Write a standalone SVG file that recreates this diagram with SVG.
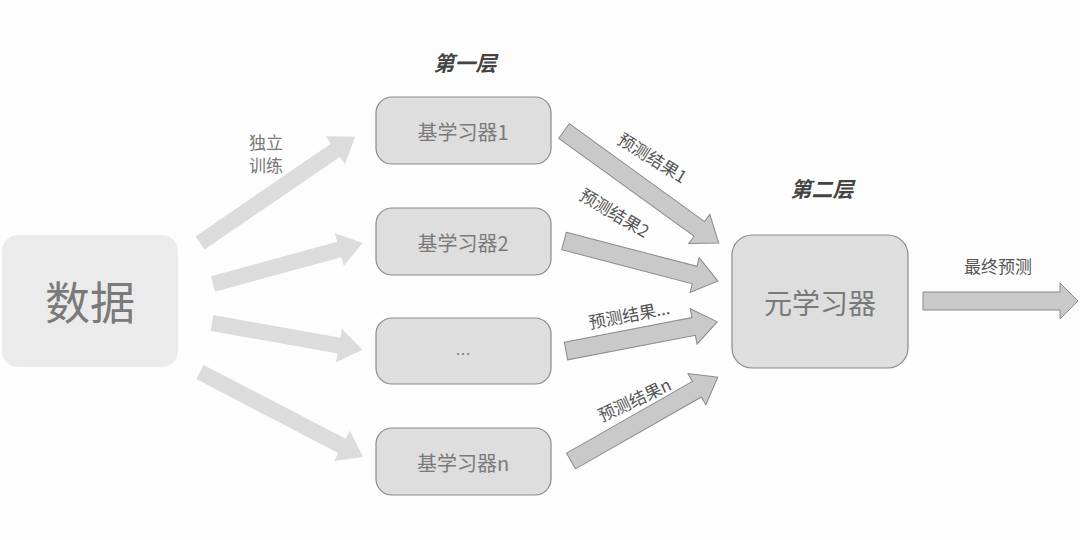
<svg xmlns="http://www.w3.org/2000/svg" width="1080" height="540" viewBox="0 0 1080 540">
<style>
.t{font-family:"Noto Sans CJK SC","Noto Sans",sans-serif;fill:#7a7a7a;text-anchor:middle;dominant-baseline:central}
.h{font-family:"Noto Sans CJK SC","Noto Sans",sans-serif;fill:#444;font-weight:bold;font-style:italic;font-size:21px;text-anchor:middle;dominant-baseline:central}
.lbl{font-family:"Noto Sans CJK SC","Noto Sans",sans-serif;fill:#555;font-size:17px;text-anchor:middle;dominant-baseline:central}
.base{fill:#dedede;stroke:#8a8a8a;stroke-width:1.2}
.la{fill:#dcdcdc}
.ra{fill:#c9c9c9;stroke:#8a8a8a;stroke-width:1}
</style>
<rect width="1080" height="540" fill="#fdfdfd"/>
<g id="data">
<rect x="2" y="235" width="176" height="132" rx="16" fill="#ebebeb"/>
<text class="t" x="90" y="300" font-size="45">数据</text>
</g>
<g id="base1">
<rect class="base" x="376" y="97" width="175" height="67" rx="16"/>
<text class="t" x="463" y="131" font-size="20">基学习器1</text>
</g>
<g id="base2">
<rect class="base" x="376" y="208" width="175" height="67" rx="16"/>
<text class="t" x="463" y="242" font-size="20">基学习器2</text>
</g>
<g id="base3">
<rect class="base" x="376" y="318" width="175" height="66" rx="16"/>
<text class="t" x="463" y="353" font-size="15">…</text>
</g>
<g id="basen">
<rect class="base" x="376" y="428" width="175" height="67" rx="16"/>
<text class="t" x="463" y="462" font-size="20">基学习器n</text>
</g>
<g id="meta">
<rect class="base" x="732" y="235" width="176" height="133" rx="20"/>
<text class="t" x="820" y="302" font-size="28">元学习器</text>
</g>
<g id="layers">
<text class="h" x="465" y="62">第一层</text>
<text class="h" x="822" y="188">第二层</text>
</g>
<g id="connectors">
<polygon class="la" transform="translate(200,243) rotate(-34.4)" points="0,-8 164,-8 164,-17 188,0 164,17 164,8 0,8"/>
<polygon class="la" transform="translate(213,284) rotate(-15.3)" points="0,-8 131,-8 131,-17 155,0 131,17 131,8 0,8"/>
<polygon class="la" transform="translate(212,323) rotate(10.1)" points="0,-8 129,-8 129,-17 153,0 129,17 129,8 0,8"/>
<polygon class="la" transform="translate(200,372) rotate(27.5)" points="0,-8 160,-8 160,-17 184,0 160,17 160,8 0,8"/>
<polygon class="ra" transform="translate(564,131) rotate(35.9)" points="0,-9 167,-9 167,-18 191,0 167,18 167,9 0,9"/>
<polygon class="ra" transform="translate(564,241) rotate(14.6)" points="0,-9 135,-9 135,-18 159,0 135,18 135,9 0,9"/>
<polygon class="ra" transform="translate(566,351) rotate(-10.9)" points="0,-9 130,-9 130,-18 154,0 130,18 130,9 0,9"/>
<polygon class="ra" transform="translate(571,461) rotate(-29.7)" points="0,-9 145,-9 145,-18 169,0 145,18 145,9 0,9"/>
<polygon class="ra" points="923,292 1060,292 1060,283 1078,301 1060,319 1060,310 923,310"/>
<text class="lbl" x="266" y="141" style="fill:#777">独立</text>
<text class="lbl" x="266" y="164" style="fill:#777">训练</text>
<text class="lbl" transform="translate(653,157) rotate(32)">预测结果1</text>
<text class="lbl" transform="translate(615,212) rotate(31)">预测结果2</text>
<text class="lbl" transform="translate(629,314) rotate(-10.7)">预测结果...</text>
<text class="lbl" transform="translate(634,399) rotate(-25)">预测结果n</text>
<text class="lbl" x="998" y="265">最终预测</text>
</g>
</svg>
